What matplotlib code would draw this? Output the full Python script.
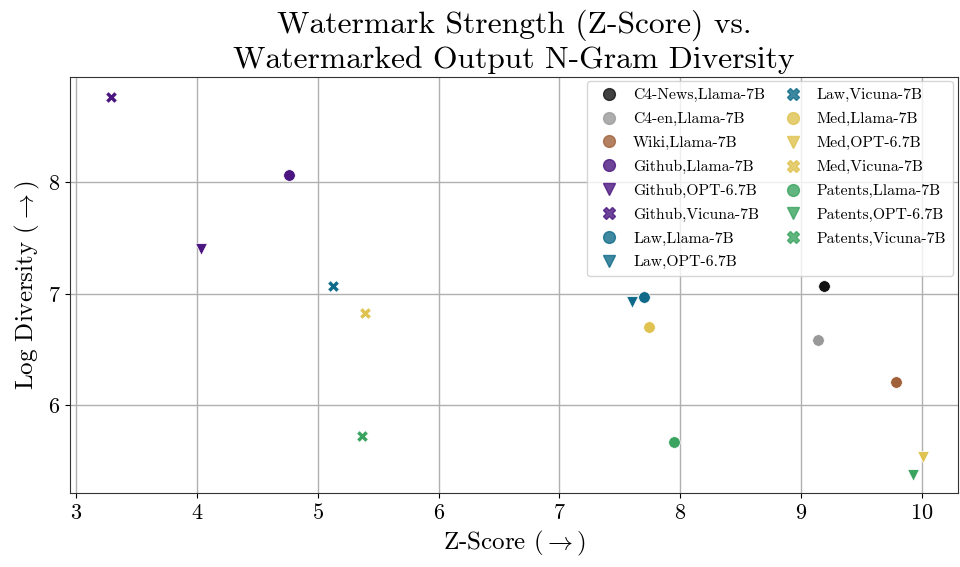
import matplotlib
matplotlib.use("Agg")
import matplotlib.pyplot as plt
from matplotlib.lines import Line2D

plt.rcParams['font.family'] = ['cmr10']
plt.rcParams['mathtext.fontset'] = 'cm'
plt.rcParams['axes.formatter.use_mathtext'] = True
plt.rcParams['axes.unicode_minus'] = False

labels = ["C4-News,Llama-7B", "C4-en,Llama-7B", "Wiki,Llama-7B",
          "Github,Llama-7B", "Github,OPT-6.7B", "Github,Vicuna-7B",
          "Law,Llama-7B", "Law,OPT-6.7B", "Law,Vicuna-7B",
          "Med,Llama-7B", "Med,OPT-6.7B", "Med,Vicuna-7B",
          "Patents,Llama-7B", "Patents,OPT-6.7B", "Patents,Vicuna-7B"]
z_score = [9.19, 9.14, 9.79,
           4.76, 4.03, 3.29,
           7.70, 7.60, 5.13,
           7.74, 10.01, 5.39,
           7.95, 9.93, 5.37]
log_div = [7.07, 6.59, 6.21,
           8.07, 7.40, 8.77,
           6.97, 6.93, 7.07,
           6.70, 5.54, 6.83,
           5.67, 5.37, 5.72]
colors = ["#111111", "#999999", "#a0613a",
          "#4a1580", "#4a1580", "#4a1580",
          "#0e6a88", "#0e6a88", "#0e6a88",
          "#dfc24f", "#dfc24f", "#dfc24f",
          "#3aa35f", "#3aa35f", "#3aa35f"]
markers = ["o", "o", "o", "o", "v", "X", "o", "v", "X", "o", "v", "X", "o", "v", "X"]

fig, ax = plt.subplots(figsize=(9.6, 5.67), dpi=100)
for i in range(len(labels)):
    ax.scatter(z_score[i], log_div[i], color=colors[i], marker=markers[i], s=70,
               edgecolors='white', linewidths=0.5, zorder=3)

# legend handles a little lighter than the points
handles = [Line2D([], [], linestyle='none', marker=markers[i], color=colors[i],
                  markersize=8.5, alpha=0.8, label=labels[i]) for i in range(len(labels))]
ax.legend(handles=handles, ncol=2, loc='upper right', fontsize=11.3,
          handletextpad=0.5, columnspacing=0.8, labelspacing=0.62, borderpad=0.45,
          borderaxespad=0.3)

ax.set_xlim(2.95, 10.3)
ax.set_ylim(5.21, 8.95)
ax.set_xticks([3, 4, 5, 6, 7, 8, 9, 10])
ax.set_yticks([6, 7, 8])
ax.grid(True, color='#b0b0b0', linewidth=1, zorder=0)
ax.set_axisbelow(True)
ax.tick_params(labelsize=16)
ax.set_xlabel(r"Z-Score $(\rightarrow)$", fontsize=18)
ax.set_ylabel(r"Log Diversity $(\rightarrow)$", fontsize=18)
ax.set_title("Watermark Strength (Z-Score) vs.\nWatermarked Output N-Gram Diversity",
             fontsize=22.7, linespacing=1.25)
for s in ax.spines.values():
    s.set_color('#333333')

fig.subplots_adjust(left=0.073, right=0.998, top=0.865, bottom=0.13)
fig.savefig("out.png", dpi=100)
